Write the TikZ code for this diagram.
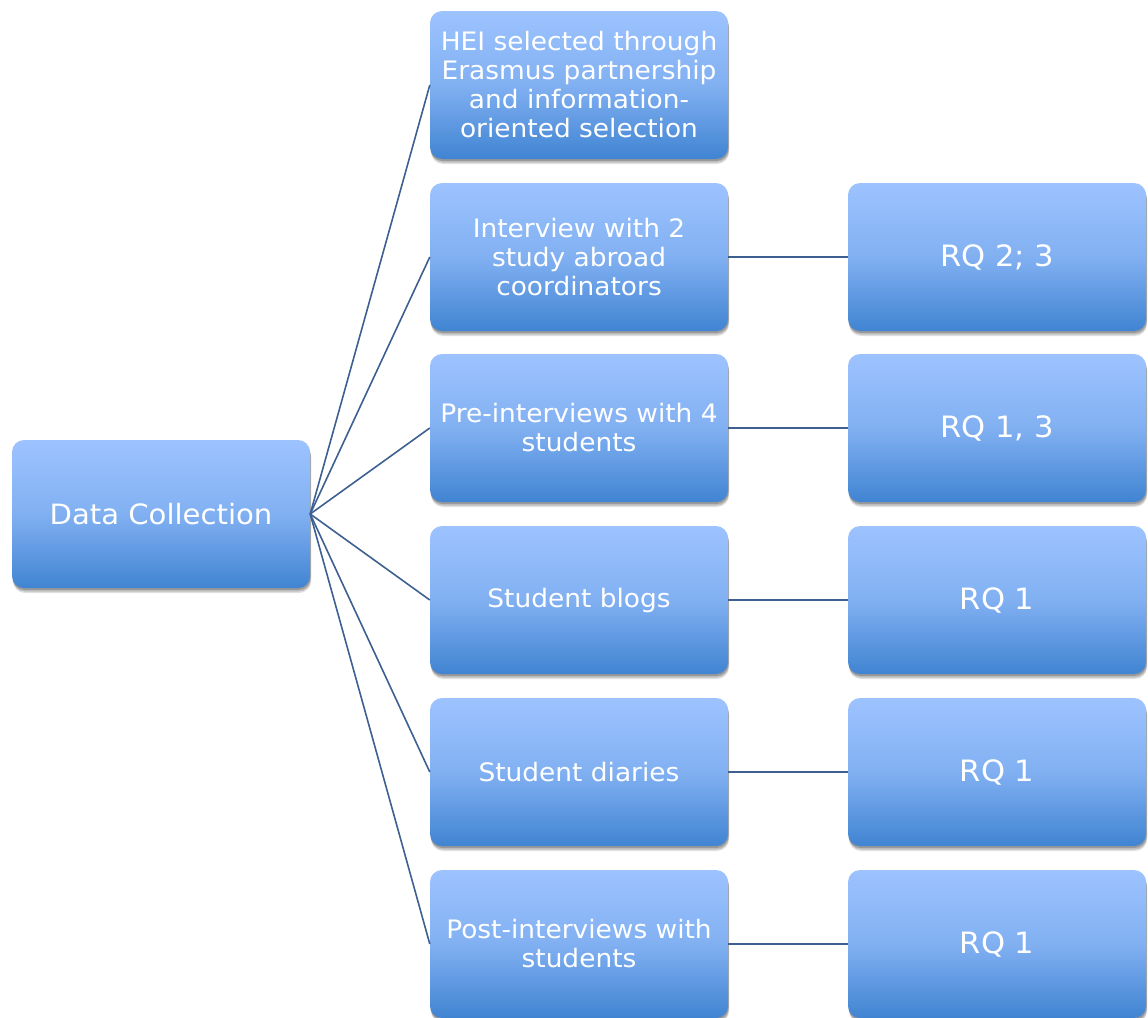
\documentclass[tikz,border=0pt]{standalone}
\usepackage{fontspec}
\setmainfont[FakeStretch=1.04]{DejaVu Sans}
\usetikzlibrary{shadows}
\definecolor{boxtop}{RGB}{157,195,255}
\definecolor{boxbot}{RGB}{64,132,210}
\definecolor{linkcol}{RGB}{62,96,145}
\tikzset{
  softshadow/.style={
    general shadow={shadow xshift=1pt, shadow yshift=-5pt, opacity=0.12, fill=black},
    general shadow={shadow xshift=1pt, shadow yshift=-3.5pt, opacity=0.15, fill=black},
    general shadow={shadow xshift=0.5pt, shadow yshift=-2pt, opacity=0.2, fill=black}},
  card/.style={rectangle, rounded corners=12pt, minimum width=298pt, minimum height=148pt,
    top color=boxtop, bottom color=boxbot, middle color=boxtop!70!boxbot,
    text=white, align=center, inner sep=4pt,
    font=\fontsize{25.4}{29}\selectfont, softshadow},
  rootcard/.style={card, font=\fontsize{28}{33}\selectfont},
  rqcard/.style={card, font=\fontsize{29.4}{35}\selectfont},
  link/.style={draw=linkcol, line width=1.6pt}
}
\begin{document}
\begin{tikzpicture}[x=1pt, y=-1pt]
\useasboundingbox (0,0) rectangle (1148,1017);
% root
\node[rootcard] (dc) at (161,514) {Data Collection};
% data sources
\node[card] (s1) at (579,85) {HEI selected through\\Erasmus partnership\\and information-\\oriented selection};
\node[card] (s2) at (579,257) {Interview with 2\\study abroad\\coordinators};
\node[card] (s3) at (579,428) {Pre-interviews with 4\\students};
\node[card] (s4) at (579,600) {Student blogs};
\node[card] (s5) at (579,772) {Student diaries};
\node[card] (s6) at (579,944) {Post-interviews with\\students};
% research questions
\node[rqcard] (r2) at (997,257) {RQ 2; 3};
\node[rqcard] (r3) at (997,428) {RQ 1, 3};
\node[rqcard] (r4) at (997,600) {RQ 1};
\node[rqcard] (r5) at (997,772) {RQ 1};
\node[rqcard] (r6) at (997,944) {RQ 1};
% connectors
\foreach \s in {s1,s2,s3,s4,s5,s6}
  \draw[link] (dc.east) -- (\s.west);
\draw[link] (s2.east) -- (r2.west);
\draw[link] (s3.east) -- (r3.west);
\draw[link] (s4.east) -- (r4.west);
\draw[link] (s5.east) -- (r5.west);
\draw[link] (s6.east) -- (r6.west);
\end{tikzpicture}
\end{document}
